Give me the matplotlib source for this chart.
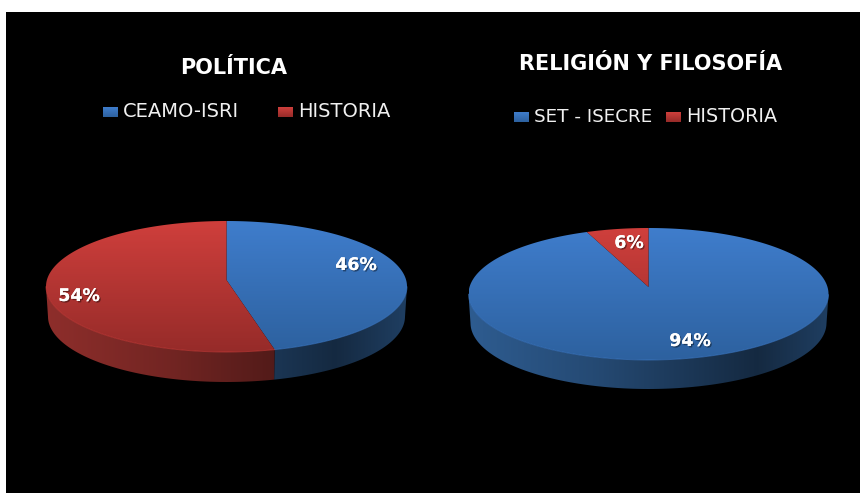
import numpy as np
import matplotlib
matplotlib.use('Agg')
import matplotlib.pyplot as plt
import matplotlib.patheffects as pe
from matplotlib.colors import to_rgb, LinearSegmentedColormap
from matplotlib.patches import Polygon, Rectangle

# datos de los dos graficos
titles = ['POLÍTICA', 'RELIGIÓN Y FILOSOFÍA']
left_labels = ['CEAMO-ISRI', 'HISTORIA']
left_values = [46, 54]
right_labels = ['SET - ISECRE', 'HISTORIA']
right_values = [94, 6]

BLUE = ('#3f7dcc', '#2d619f', '#2e5c90')
RED = ('#cf3f3c', '#962b29', '#8e2e2b')
W, H = 863, 493

plt.rcParams['font.family'] = ['DejaVu Sans']
fig = plt.figure(figsize=(W / 100, H / 100), dpi=100, facecolor='white')
ax = fig.add_axes([0, 0, 1, 1])
ax.set_axis_off()
ax.add_patch(Rectangle((6, 12), 854, 481, fc='black', ec='none', zorder=0))


def gradient(patch, top, bottom, box, zorder):
    # degradado vertical recortado con la forma
    x0, x1, y0, y1 = box
    cmap = LinearSegmentedColormap.from_list('g', [top, bottom])
    im = ax.imshow(np.linspace(0, 1, 200).reshape(-1, 1), cmap=cmap, aspect='auto',
                   extent=(x0, x1, y1, y0), zorder=zorder, interpolation='bilinear')
    patch.set(fc='none', ec='none')
    ax.add_patch(patch)
    im.set_clip_path(patch)


def side_wall(poly, base, box, zorder):
    # degradado horizontal de la pared lateral
    x0, x1, y0, y1 = box
    t = np.linspace(0, 1, 300)
    shade = np.interp(t, [0, 0.35, 0.8, 1], [1.0, 0.8, 0.45, 0.68])
    img = (np.array(to_rgb(base))[None, None, :] * shade[None, :, None])
    im = ax.imshow(img, aspect='auto', extent=(x0, x1, y1, y0), zorder=zorder, interpolation='bilinear')
    poly.set(fc='none', ec='none')
    ax.add_patch(poly)
    im.set_clip_path(poly)


def pie3d(values, cx, cy, rx, ry, apex_dy, depth):
    colors = [BLUE, RED]
    total = sum(values)
    start = 0.0
    box = (cx - rx, cx + rx, cy - ry, cy + ry + depth)
    for value, col in zip(values, colors):
        end = start + 360.0 * value / total
        deg = np.linspace(start, end, 400)
        # el centro queda por encima del centro de la elipse (perspectiva)
        th = np.radians(deg - 4.3 * np.sin(np.radians(deg)))
        xs = cx + rx * np.sin(th)
        ys = cy - ry * np.cos(th)
        mask = (th >= np.pi / 2) & (th <= 3 * np.pi / 2)
        if mask.any():
            xb = cx + (rx - 2) * np.sin(th[mask])
            yb = ys[mask] + depth
            wall = Polygon(np.vstack([np.column_stack([xs[mask], ys[mask]]),
                                      np.column_stack([xb, yb])[::-1]]), closed=True)
            side_wall(wall, col[2], box, 2)
        # cara superior
        poly = Polygon(np.vstack([[cx, cy - apex_dy], np.column_stack([xs, ys])]), closed=True)
        gradient(poly, col[0], col[1], (cx - rx, cx + rx, cy - ry, cy + ry), 3)
        # borde claro delantero
        if mask.any():
            ax.plot(xs[mask], ys[mask], color=col[0], lw=0.7, alpha=0.6, zorder=4)
        start = end


def pct_label(x, y, value):
    shadow = [pe.withSimplePatchShadow(offset=(1, -1), shadow_rgbFace='black', alpha=0.4), pe.Normal()]
    ax.text(x, y, f'{value}%', color='white', fontsize=12.5, fontweight='bold', ha='center', va='center',
            zorder=6, path_effects=shadow)


def legend_item(x, y, label, col, size):
    box = Rectangle((x, y - 5), 15, 10)
    gradient(box, col[0], col[1], (x, x + 15, y - 5, y + 5), 5)
    ax.text(x + 20, y - 0.5, label, color='#f0f0f0', fontsize=size, va='center', ha='left', zorder=6)


# grafico izquierdo
pie3d(left_values, 226.5, 286.5, 180.5, 65.5, 6.5, 30)
ax.text(233.5, 68, titles[0], color='white', fontsize=15, fontweight='bold', ha='center', va='center')
legend_item(103, 112, left_labels[0], BLUE, 14)
legend_item(278, 112, left_labels[1], RED, 14)
pct_label(356, 265, left_values[0])
pct_label(79, 296, left_values[1])

# grafico derecho
pie3d(right_values, 648.5, 294, 180, 66, 7, 29)
ax.text(650.5, 64, titles[1], color='white', fontsize=15, fontweight='bold', ha='center', va='center')
legend_item(514, 117, right_labels[0], BLUE, 13.2)
legend_item(666, 117, right_labels[1], RED, 13.8)
pct_label(690, 341, right_values[0])
pct_label(629, 243, right_values[1])

ax.set_xlim(0, W)
ax.set_ylim(H, 0)
fig.savefig('out.png', dpi=100, facecolor='white')
